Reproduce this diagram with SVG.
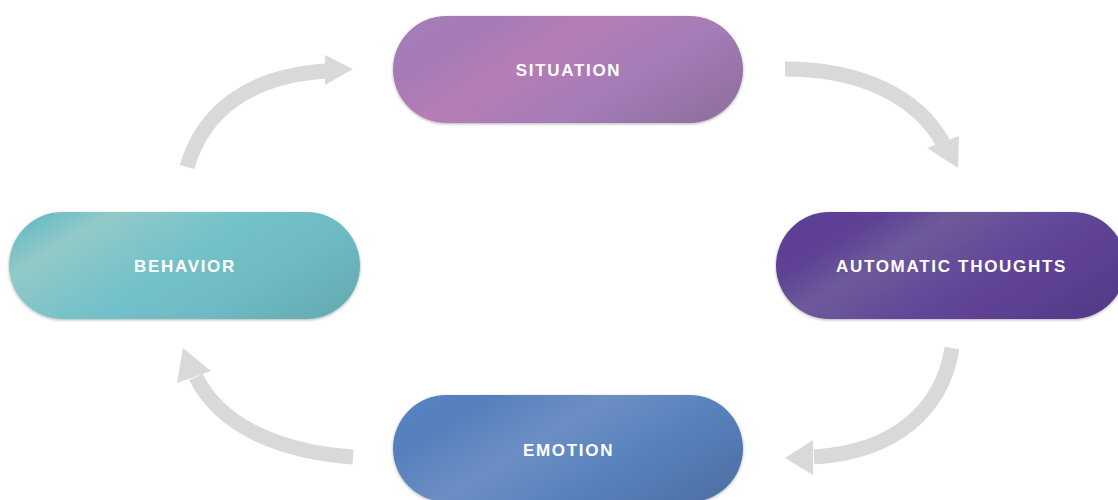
<svg xmlns="http://www.w3.org/2000/svg" width="1118" height="500" viewBox="0 0 1118 500">
<style>
.lbl{font-family:"Liberation Sans",Arial,sans-serif;font-weight:bold;font-size:17px;letter-spacing:1.7px;fill:#ffffff;text-anchor:middle}
.shaft{fill:none;stroke:#d9d9da;stroke-width:15}
.head{fill:#d9d9da}
.pill{filter:url(#sh)}
</style>
<defs>
<filter id="sh" x="-10%" y="-20%" width="120%" height="140%">
<feDropShadow dx="0" dy="1" stdDeviation="1.8" flood-color="#000" flood-opacity="0.3"/>
</filter>
<linearGradient id="gSit" x1="0" y1="0.25" x2="1" y2="0.75">
<stop offset="0" stop-color="#a47bb8"/>
<stop offset="0.15" stop-color="#a57ab7"/>
<stop offset="0.36" stop-color="#b67db5"/>
<stop offset="0.68" stop-color="#a47cb8"/>
<stop offset="1" stop-color="#9270a1"/>
</linearGradient>
<linearGradient id="gAuto" x1="0" y1="0.25" x2="1" y2="0.75">
<stop offset="0" stop-color="#5c4096"/>
<stop offset="0.15" stop-color="#5e4296"/>
<stop offset="0.32" stop-color="#6e5a99"/>
<stop offset="0.62" stop-color="#614599"/>
<stop offset="1" stop-color="#563b8a"/>
</linearGradient>
<linearGradient id="gBeh" x1="0" y1="0.25" x2="1" y2="0.75">
<stop offset="0" stop-color="#70bec5"/>
<stop offset="0.14" stop-color="#93c9c8"/>
<stop offset="0.45" stop-color="#74c2c9"/>
<stop offset="0.75" stop-color="#6dbac2"/>
<stop offset="1" stop-color="#66adb4"/>
</linearGradient>
<linearGradient id="gEmo" x1="0" y1="0.25" x2="1" y2="0.75">
<stop offset="0" stop-color="#5682bf"/>
<stop offset="0.12" stop-color="#5580bd"/>
<stop offset="0.4" stop-color="#6c8ec4"/>
<stop offset="0.7" stop-color="#5681bd"/>
<stop offset="1" stop-color="#4f72a8"/>
</linearGradient>
</defs>
<g id="connectors">
<path class="shaft" d="M187,167 C203,112 248,76 326,71"/>
<polygon class="head" points="325,55 325,85 353,69"/>
<path class="shaft" d="M785,69 C860,69 917,96 943,143"/>
<polygon class="head" points="927,148 959,136 958,168"/>
<path class="shaft" d="M952,348 C942,410 895,452 814,457"/>
<polygon class="head" points="813,440 813,475 785,458"/>
<path class="shaft" d="M353,457 C280,452 220,426 196,377"/>
<polygon class="head" points="183,348 177,383 211,371"/>
</g>
<g id="situation">
<rect class="pill" x="393" y="16" width="350" height="107" rx="53.5" fill="url(#gSit)"/>
<text class="lbl" x="568.5" y="76">SITUATION</text>
</g>
<g id="automatic-thoughts">
<rect class="pill" x="776" y="212" width="350" height="107" rx="53.5" fill="url(#gAuto)"/>
<text class="lbl" x="951.5" y="272">AUTOMATIC THOUGHTS</text>
</g>
<g id="emotion">
<rect class="pill" x="393" y="395" width="350" height="107" rx="53.5" fill="url(#gEmo)"/>
<text class="lbl" x="568.5" y="456">EMOTION</text>
</g>
<g id="behavior">
<rect class="pill" x="9" y="212" width="351" height="107" rx="53.5" fill="url(#gBeh)"/>
<text class="lbl" x="185" y="272">BEHAVIOR</text>
</g>
</svg>
